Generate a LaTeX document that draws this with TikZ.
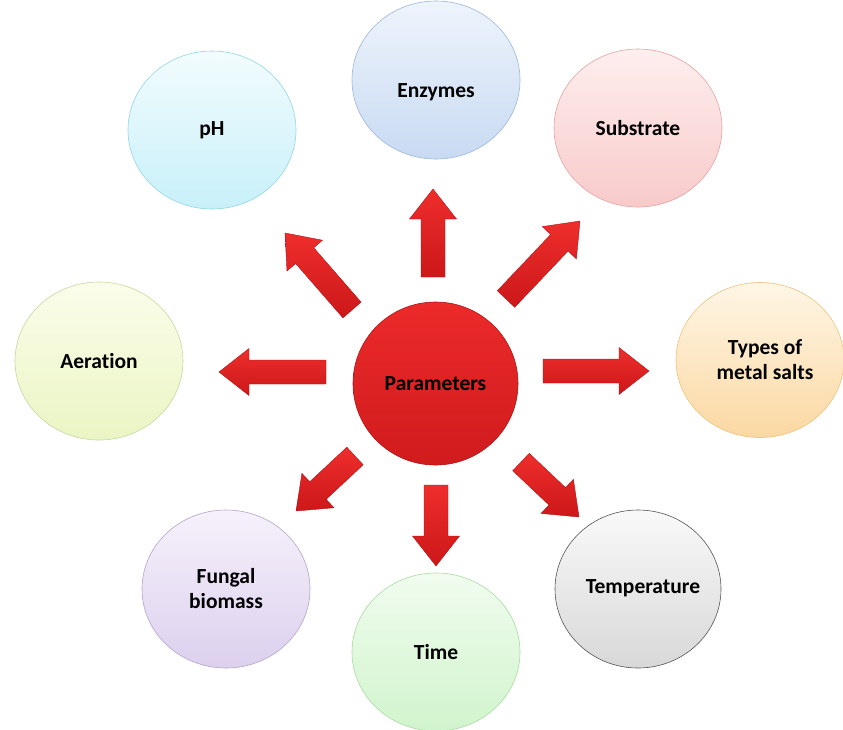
\documentclass[tikz,border=0pt]{standalone}
\usepackage{fontspec}
\setmainfont[Ligatures=NoCommon]{Carlito}
\usetikzlibrary{shapes.geometric,calc}
\definecolor{arrtop}{HTML}{EE2E2C}
\definecolor{arrbot}{HTML}{CC1719}
\definecolor{arredge}{HTML}{B01317}
\definecolor{phT}{HTML}{F2FCFE}\definecolor{phB}{HTML}{C8F0F9}\definecolor{phD}{HTML}{93D6E6}
\definecolor{enT}{HTML}{EEF4FC}\definecolor{enB}{HTML}{C8DAF2}\definecolor{enD}{HTML}{9BB7DA}
\definecolor{suT}{HTML}{FEEEEE}\definecolor{suB}{HTML}{F8CACA}\definecolor{suD}{HTML}{E5A3A3}
\definecolor{aeT}{HTML}{FBFDEA}\definecolor{aeB}{HTML}{EAF5C4}\definecolor{aeD}{HTML}{C6D99E}
\definecolor{meT}{HTML}{FEF6E6}\definecolor{meB}{HTML}{FBD8A2}\definecolor{meD}{HTML}{F0C27E}
\definecolor{fuT}{HTML}{F6F1FB}\definecolor{fuB}{HTML}{DCD0EE}\definecolor{fuD}{HTML}{B5A5CB}
\definecolor{tiT}{HTML}{F1FCEF}\definecolor{tiB}{HTML}{D0F4CC}\definecolor{tiD}{HTML}{A8DDA2}
\definecolor{teT}{HTML}{F9F9F9}\definecolor{teB}{HTML}{D8D8D8}\definecolor{teD}{HTML}{555555}
\definecolor{paT}{HTML}{EC2A2A}\definecolor{paB}{HTML}{D01B1D}\definecolor{paD}{HTML}{B01418}
\tikzset{
  bubble/.style={ellipse, minimum width=168pt, minimum height=158pt, line width=0.6pt, inner sep=0pt, align=center, font=\fontsize{21.5}{25}\selectfont\bfseries, text=black},
  lbl/.style={align=center, font=\fontsize{21.5}{25}\selectfont\bfseries, text=black, inner sep=0pt},
  redarrow/.style={top color=arrtop, bottom color=arrbot, draw=arredge, line width=0.4pt, line join=miter}
}
\newcommand\blockarrow[2]{%
  \shade[redarrow] ($(#1)!12pt!90:(#2)$) -- ($($(#2)!30pt!(#1)$)!12pt!90:(#2)$) -- ($($(#2)!30pt!(#1)$)!23.5pt!90:(#2)$) -- (#2)
   -- ($($(#2)!30pt!(#1)$)!23.5pt!-90:(#2)$) -- ($($(#2)!30pt!(#1)$)!12pt!-90:(#2)$) -- ($(#1)!12pt!-90:(#2)$) -- cycle;}
\begin{document}
\begin{tikzpicture}[x=1pt,y=-1pt]
\useasboundingbox (0,0) rectangle (843,729);
\fill[white] (0,0) rectangle (843,729);
% outer bubbles
\node[bubble, top color=phT, bottom color=phB, draw=phD] (ph) at (212,130) {pH};
\node[bubble, top color=enT, bottom color=enB, draw=enD] (enz) at (436,80) {};
\node[lbl] (enzt) at (436,92) {Enzymes};
\node[bubble, top color=suT, bottom color=suB, draw=suD] (sub) at (638,128) {Substrate};
\node[bubble, top color=aeT, bottom color=aeB, draw=aeD] (aer) at (99,361) {Aeration};
\node[bubble, minimum height=155pt, top color=meT, bottom color=meB, draw=meD] (met) at (760,360) {};
\node[lbl] (mett) at (765,360) {Types of\\metal salts};
\node[bubble, top color=fuT, bottom color=fuB, draw=fuD] (fun) at (226,589) {Fungal\\biomass};
\node[bubble, top color=tiT, bottom color=tiB, draw=tiD] (tim) at (436,652) {Time};
\node[bubble, minimum width=166pt, top color=teT, bottom color=teB, draw=teD] (tem) at (638,589) {};
\node[lbl] (temt) at (643,588) {Temperature};
% centre
\node[bubble, minimum width=165pt, minimum height=163pt, top color=paT, bottom color=paB, draw=paD] (par) at (435.5,383.5) {Parameters};
% arrows
\coordinate (a1s) at (433,277); \coordinate (a1e) at (433,189);
\coordinate (a2s) at (326,372); \coordinate (a2e) at (219,372);
\coordinate (a3s) at (543,371); \coordinate (a3e) at (649,371);
\coordinate (a4s) at (436,485); \coordinate (a4e) at (436,566);
\coordinate (a5s) at (352,310); \coordinate (a5e) at (285,233);
\coordinate (a6s) at (506,299); \coordinate (a6e) at (580,221);
\coordinate (a7s) at (355,456); \coordinate (a7e) at (296,511);
\coordinate (a8s) at (521,462); \coordinate (a8e) at (579,517);
\blockarrow{a1s}{a1e}
\blockarrow{a2s}{a2e}
\blockarrow{a3s}{a3e}
\blockarrow{a4s}{a4e}
\blockarrow{a5s}{a5e}
\blockarrow{a6s}{a6e}
\blockarrow{a7s}{a7e}
\blockarrow{a8s}{a8e}
\end{tikzpicture}
\end{document}
